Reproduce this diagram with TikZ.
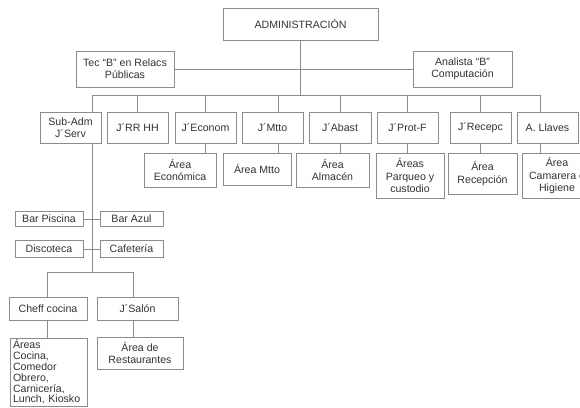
\documentclass[tikz,border=0pt]{standalone}
\usepackage{fontspec}
\setmainfont{Liberation Sans}
\definecolor{linegray}{HTML}{8C8C8C}
\definecolor{textgray}{HTML}{333333}
\begin{document}
\begin{tikzpicture}[x=1pt,y=-1pt,
  box/.style={draw=linegray, line width=0.8pt, inner sep=0pt, align=center,
    text=textgray, font=\fontsize{10.6}{12.2}\selectfont},
  conn/.style={draw=linegray, line width=0.8pt}]
\useasboundingbox (0,0) rectangle (580,407);
\clip (0,0) rectangle (580,407);
\fill[white] (0,0) rectangle (580,407);
% top
\node[box, minimum width=155, minimum height=32] (admin) at (300.5,24) {ADMINISTRACIÓN};
\node[box, minimum width=98, minimum height=36] (tec) at (125,69) {Tec “B” en Relacs\\Públicas};
\node[box, minimum width=99, minimum height=36] (ana) at (462.5,69) {Analista “B”\\Computación};
% level 2
\node[box, minimum width=61, minimum height=31] (subadm) at (70.5,127.5) {Sub-Adm\\J´Serv};
\node[box, minimum width=61, minimum height=31] (rrhh) at (137.5,127.5) {J´RR HH};
\node[box, minimum width=61, minimum height=31] (econ) at (205.5,127.5) {J´Econom};
\node[box, minimum width=61, minimum height=31] (mtto) at (272.5,127.5) {J´Mtto};
\node[box, minimum width=62, minimum height=31] (abast) at (340,127.5) {J´Abast};
\node[box, minimum width=61, minimum height=31] (prot) at (407.5,127.5) {J´Prot-F};
\node[box, minimum width=61, minimum height=31] (recep) at (480.5,127.5) {J´Recepc};
\node[box, minimum width=61, minimum height=31] (llaves) at (547.5,127.5) {A. Llaves};
% level 3
\node[box, minimum width=72, minimum height=34] (aecon) at (180,170) {Área\\Económica};
\node[box, minimum width=68, minimum height=32] (amtto) at (257,169) {Área Mtto};
\node[box, minimum width=73, minimum height=34] (aalm) at (332.5,170) {Área\\Almacén};
\node[box, minimum width=68, minimum height=45] (aparq) at (410,175.5) {Áreas\\Parqueo y\\custodio};
\node[box, minimum width=69, minimum height=41] (arecep) at (482.5,173.5) {Área\\Recepción};
\node[box, minimum width=70, minimum height=45] (acam) at (557,175.5) {Área\\Camarera e\\Higiene};
% services
\node[box, minimum width=68, minimum height=15] (barpisc) at (49,219) {Bar Piscina};
\node[box, minimum width=63, minimum height=15] (barazul) at (131.5,219) {Bar Azul};
\node[box, minimum width=68, minimum height=17] (disco) at (49,249) {Discoteca};
\node[box, minimum width=63, minimum height=17] (cafe) at (131.5,249) {Cafetería};
\node[box, minimum width=78, minimum height=23] (cheff) at (48,308.5) {Cheff cocina};
\node[box, minimum width=81, minimum height=23] (salon) at (137.5,308.5) {J´Salón};
\node[box, minimum width=77, minimum height=68, align=left, text width=71pt,
  font=\fontsize{10.6}{10.8}\selectfont] (acoc) at (48.5,372)
  {Áreas\\Cocina,\\Comedor\\Obrero,\\Carnicería,\\Lunch, Kiosko};
\node[box, minimum width=86, minimum height=32] (arest) at (140,353) {Área de\\Restaurantes};
% bus coordinates
\coordinate (busL) at (92,95);
\coordinate (busR) at (540,95);
\coordinate (dMtto) at (278,95);
\coordinate (cL) at (47,272);
\coordinate (cR) at (133,272);
% connectors
\draw[conn] (admin.south) -- (admin.south |- busL);
\draw[conn] (tec.east) -- (ana.west);
\draw[conn] (busL) -- (busR);
\draw[conn] (busL) -- (busL |- subadm.north);
\draw[conn] (rrhh.north |- busL) -- (rrhh.north);
\draw[conn] (econ.north |- busL) -- (econ.north);
\draw[conn] (dMtto) -- (dMtto |- mtto.north);
\draw[conn] (abast.north |- busL) -- (abast.north);
\draw[conn] (prot.north |- busL) -- (prot.north);
\draw[conn] (recep.north |- busL) -- (recep.north);
\draw[conn] (busR) -- (busR |- llaves.north);
\draw[conn] (econ.south) -- (econ.south |- aecon.north);
\draw[conn] (dMtto |- mtto.south) -- (dMtto |- amtto.north);
\draw[conn] (abast.south) -- (abast.south |- aalm.north);
\draw[conn] (prot.south) -- (prot.south |- aparq.north);
\draw[conn] (recep.south) -- (recep.south |- arecep.north);
\draw[conn] (busR |- llaves.south) -- (busR |- acam.north);
\draw[conn] (busL |- subadm.south) -- (busL |- cL);
\draw[conn] (barpisc.east) -- (barazul.west);
\draw[conn] (disco.east) -- (cafe.west);
\draw[conn] (cL) -- (cR);
\draw[conn] (cL) -- (cL |- cheff.north);
\draw[conn] (cR) -- (cR |- salon.north);
\draw[conn] (cL |- cheff.south) -- (cL |- acoc.north);
\draw[conn] (cR |- salon.south) -- (cR |- arest.north);
\end{tikzpicture}
\end{document}
